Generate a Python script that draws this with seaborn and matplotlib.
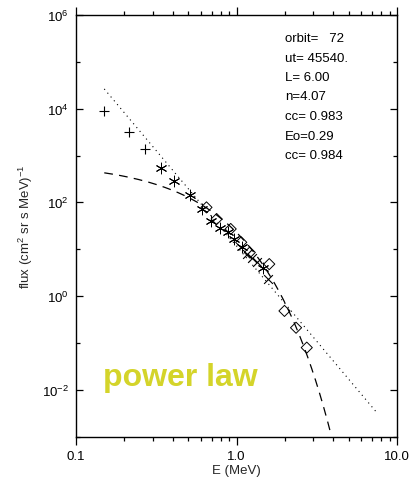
import numpy as np
import pandas as pd
import matplotlib
matplotlib.use("Agg")
import matplotlib.pyplot as plt
import matplotlib.ticker as mticker
import seaborn as sns

# --- measured electron spectrum (energy in MeV, flux per cm^2 sr s MeV) ---
plus_E = [0.149, 0.214, 0.269]
plus_flux = [8.7e3, 3.1e3, 1.4e3]

star_E = [0.339, 0.408, 0.513, 0.607, 0.690, 0.789, 0.888, 0.970, 1.077, 1.47]
star_flux = [550, 288, 145, 72, 39, 29, 23, 16.4, 11, 3.9]

cross_E = [1.155, 1.25, 1.34, 1.58]
cross_flux = [7.9, 6.6, 5.2, 2.3]

diam_E = [0.65, 0.752, 0.92, 1.07, 1.21, 1.60, 1.99, 2.35, 2.74]
diam_flux = [78, 44, 27, 14, 8.5, 4.8, 0.48, 0.21, 0.079]

# --- fit parameters ---
orbit = 72
ut = 45540
L_shell = 6.00
n_index = 4.07
cc_pow = 0.983
E0 = 0.29
cc_exp = 0.984
pow_amp = 11.7     # power-law flux at 1 MeV
exp_amp = 716.0    # exponential amplitude

pow_range = (0.15, 7.4)
exp_range = (0.15, 3.9)

xticks = [0.1, 1.0, 10.0]
xticklabels = ["0.1", "1.0", "10.0"]
ymajor = [1e-2, 1e0, 1e2, 1e4, 1e6]
yminor = [1e-3, 1e-1, 1e1, 1e3, 1e5]

info_lines = [
    f"orbit=   {orbit}",
    f"ut= {ut}.",
    f"L= {L_shell:.2f}",
    f"n={n_index:.2f}",
    f"cc= {cc_pow:.3f}",
    f"Eo={E0:.2f}",
    f"cc= {cc_exp:.3f}",
]

sns.set_theme(style="ticks")
plt.rcParams["font.family"] = ["Liberation Sans", "DejaVu Sans"]
plt.rcParams["mathtext.fontset"] = "custom"
plt.rcParams["mathtext.rm"] = "Liberation Sans"
plt.rcParams["mathtext.it"] = "Liberation Sans"

fig = plt.figure(figsize=(4.12, 4.85), dpi=100)
ax = fig.add_axes([76 / 412, 1 - 437.5 / 485, 321 / 412, 421.5 / 485])

# fit curves
Ep = np.geomspace(*pow_range, 200)
pow_df = pd.DataFrame({"E": Ep, "flux": pow_amp * Ep ** (-n_index)})
Ee = np.linspace(*exp_range, 200)
exp_df = pd.DataFrame({"E": Ee, "flux": exp_amp * np.exp(-Ee / E0)})

sns.lineplot(data=pow_df, x="E", y="flux", ax=ax, color="black",
             linewidth=0.8, linestyle=(0, (1, 3.5)), sort=False)
sns.lineplot(data=exp_df, x="E", y="flux", ax=ax, color="black",
             linewidth=0.9, linestyle=(0, (7, 5)), sort=False)

# data points
sns.scatterplot(x=plus_E, y=plus_flux, ax=ax, marker="+", s=60,
                color="black", linewidth=0.8)
sns.scatterplot(x=star_E, y=star_flux, ax=ax, marker=(6, 2, 0), s=60,
                color="black", linewidth=0.7)
sns.scatterplot(x=cross_E, y=cross_flux, ax=ax, marker="x", s=40,
                color="black", linewidth=0.8)
sns.scatterplot(x=diam_E, y=diam_flux, ax=ax, marker="D", s=32,
                facecolor="none", edgecolor="black", linewidth=0.7)

ax.set_xscale("log")
ax.set_yscale("log")
ax.set_xlim(0.1, 10.0)
ax.set_ylim(1e-3, 1e6)

ax.xaxis.set_major_locator(mticker.FixedLocator(xticks))
ax.xaxis.set_major_formatter(mticker.FixedFormatter(xticklabels))
ax.xaxis.set_minor_locator(mticker.LogLocator(base=10, subs=np.arange(2, 10)))
ax.xaxis.set_minor_formatter(mticker.NullFormatter())
ax.yaxis.set_major_locator(mticker.FixedLocator(ymajor))
ax.yaxis.set_major_formatter(mticker.LogFormatterSciNotation())
ax.yaxis.set_minor_locator(mticker.FixedLocator(yminor))
ax.yaxis.set_minor_formatter(mticker.NullFormatter())

ax.tick_params(axis="x", which="both", direction="out", top=True, bottom=True,
               labelsize=9.5, colors="black", pad=4)
ax.tick_params(axis="x", which="major", length=6, width=0.9)
ax.tick_params(axis="x", which="minor", length=3, width=0.9)
ax.tick_params(axis="y", which="both", direction="in", left=True, right=True,
               labelsize=9.5, colors="black", pad=5)
ax.tick_params(axis="y", which="major", length=5, width=0.9)
ax.tick_params(axis="y", which="minor", length=3, width=0.9)

for sp in ax.spines.values():
    sp.set_visible(True)
    sp.set_linewidth(1.0)
    sp.set_color("black")

ax.set_xlabel("E (MeV)", fontsize=9.5)
ax.set_ylabel("flux (cm$^{2}$ sr s MeV)$^{-1}$", fontsize=9.5)
ax.xaxis.set_label_coords(0.5, -0.065)
ax.yaxis.set_label_coords(-0.128, 0.5)

for i, line in enumerate(info_lines):
    ax.text(285 / 412, 1 - (39 + 19.5 * i) / 485, line, transform=fig.transFigure,
            fontsize=9.5, ha="left", va="center", color="black")

fig.text(103 / 412, 1 - 386 / 485, "power law", fontsize=23, fontweight="bold",
         color="#d4d42a", ha="left", va="baseline")

fig.savefig("out.png", dpi=100)
